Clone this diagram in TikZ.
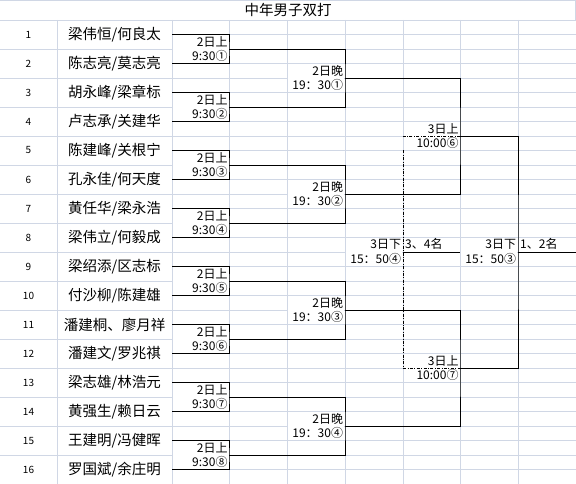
\documentclass[tikz,border=0pt]{standalone}
\usepackage{fontspec}
\usepackage{tikz}
\usetikzlibrary{positioning, calc}
\newfontfamily\cjk{Noto Sans CJK SC}
\definecolor{gridc}{HTML}{D0D7E5}

\begin{document}
\begin{tikzpicture}[
    x=1pt, y=-1pt,
    every node/.style={font=\cjk},
    gridline/.style={draw=gridc, line width=0.6pt},
    numcell/.style={minimum width=57pt, minimum height=29pt, inner sep=0pt,
                    font=\cjk\fontsize{10}{12}\selectfont},
    namecell/.style={minimum width=115pt, minimum height=29pt, inner sep=0pt,
                     font=\cjk\fontsize{14.5}{17}\selectfont},
    tag/.style={fill=white, minimum width=56pt, minimum height=28pt,
                text width=54pt, inner sep=1pt, align=right,
                font=\cjk\fontsize{12}{14.5}\selectfont},
    rank/.style={anchor=south west, inner sep=1pt,
                 font=\cjk\fontsize{12}{14.5}\selectfont},
    wire/.style={draw=black, line width=0.8pt},
    thirdline/.style={wire, dash pattern=on 3pt off 1.5pt on 0.8pt off 1.5pt}
]
\useasboundingbox (0,0) rectangle (576,484);

% sheet grid
\draw[gridline] (0,0) -- (576,0);
\draw[gridline] (0,20) -- (576,20);
\draw[gridline] (575.5,0) -- (575.5,20);
\foreach \x in {57,172,229,287,345,403,460,518}
  \draw[gridline] (\x,20) -- (\x,484);
\foreach \k in {1,...,16}
  \draw[gridline] (0,{20+29*\k}) -- (172,{20+29*\k});
\foreach \j in {1,...,32}
  \draw[gridline] (172,{20+14.5*\j}) -- (576,{20+14.5*\j});

\node[font=\cjk\fontsize{14.5}{17}\selectfont] (title) at (288,10) {中年男子双打};

% entrants
\foreach \i/\nm in {1/{梁伟恒/何良太}, 2/{陈志亮/莫志亮}, 3/{胡永峰/梁章标},
                    4/{卢志承/关建华}, 5/{陈建峰/关根宁}, 6/{孔永佳/何天度},
                    7/{黄任华/梁永浩}, 8/{梁伟立/何毅成}, 9/{梁绍添/区志标},
                    10/{付沙柳/陈建雄}, 11/{潘建桐、廖月祥}, 12/{潘建文/罗兆祺},
                    13/{梁志雄/林浩元}, 14/{黄强生/赖日云}, 15/{王建明/冯健晖},
                    16/{罗国斌/余庄明}} {
  \node[numcell] (n\i) at (28.5,{5.5+29*\i}) {\i};
  \node[namecell] (p\i) at (114.5,{5.5+29*\i}) {\nm};
}

% first round
\foreach \k/\c in {1/①, 2/②, 3/③, 4/④, 5/⑤, 6/⑥, 7/⑦, 8/⑧} {
  \pgfmathtruncatemacro\a{2*\k-1}
  \pgfmathtruncatemacro\b{2*\k}
  \coordinate (a\k) at (229,{20+29*(2*\k-1)});
  \node[tag] (ta\k) at (200.5,{20+29*(2*\k-1)}) {2日上\\9:30\c};
  \draw[wire] (p\a.east) -| (a\k) |- (p\b.east);
}

% second round
\foreach \m/\c in {1/①, 2/②, 3/③, 4/④} {
  \pgfmathtruncatemacro\a{2*\m-1}
  \pgfmathtruncatemacro\b{2*\m}
  \coordinate (b\m) at (345,{20+29*(4*\m-2)});
  \node[tag] (tb\m) at (316,{20+29*(4*\m-2)}) {2日晚\\19：30\c};
  \draw[wire] (a\a) -| (b\m) |- (a\b);
}

% semifinals
\coordinate (c1) at (460,136);
\coordinate (c2) at (460,368);
\node[tag] (tc1) at (431.5,136) {3日上\\10:00⑥};
\node[tag] (tc2) at (431.5,368) {3日上\\10:00⑦};
\draw[wire] (b1) -| (c1) |- (b2);
\draw[wire] (b3) -| (c2) |- (b4);

% final
\coordinate (f) at (518,252);
\coordinate (fend) at (576,252);
\node[tag] (tf) at (489,252) {3日下\\15：50③};
\node[rank] (first) at (519,251) {1、2名};
\draw[wire] (c1) -| (f) |- (c2);
\draw[wire] (f) -- (fend);

% third place
\coordinate (t) at (403,252);
\coordinate (tend) at (460,252);
\coordinate (ttop) at (403,136);
\coordinate (tgap) at (403,150.5);
\node[tag] (tt) at (374,252) {3日下\\15：50④};
\node[rank] (third) at (404,251) {3、4名};
\draw[thirdline] (c1) -- (ttop);
\draw[thirdline] (tgap) |- (c2);
\draw[wire] (t) -- (tend);

\end{tikzpicture}
\end{document}
